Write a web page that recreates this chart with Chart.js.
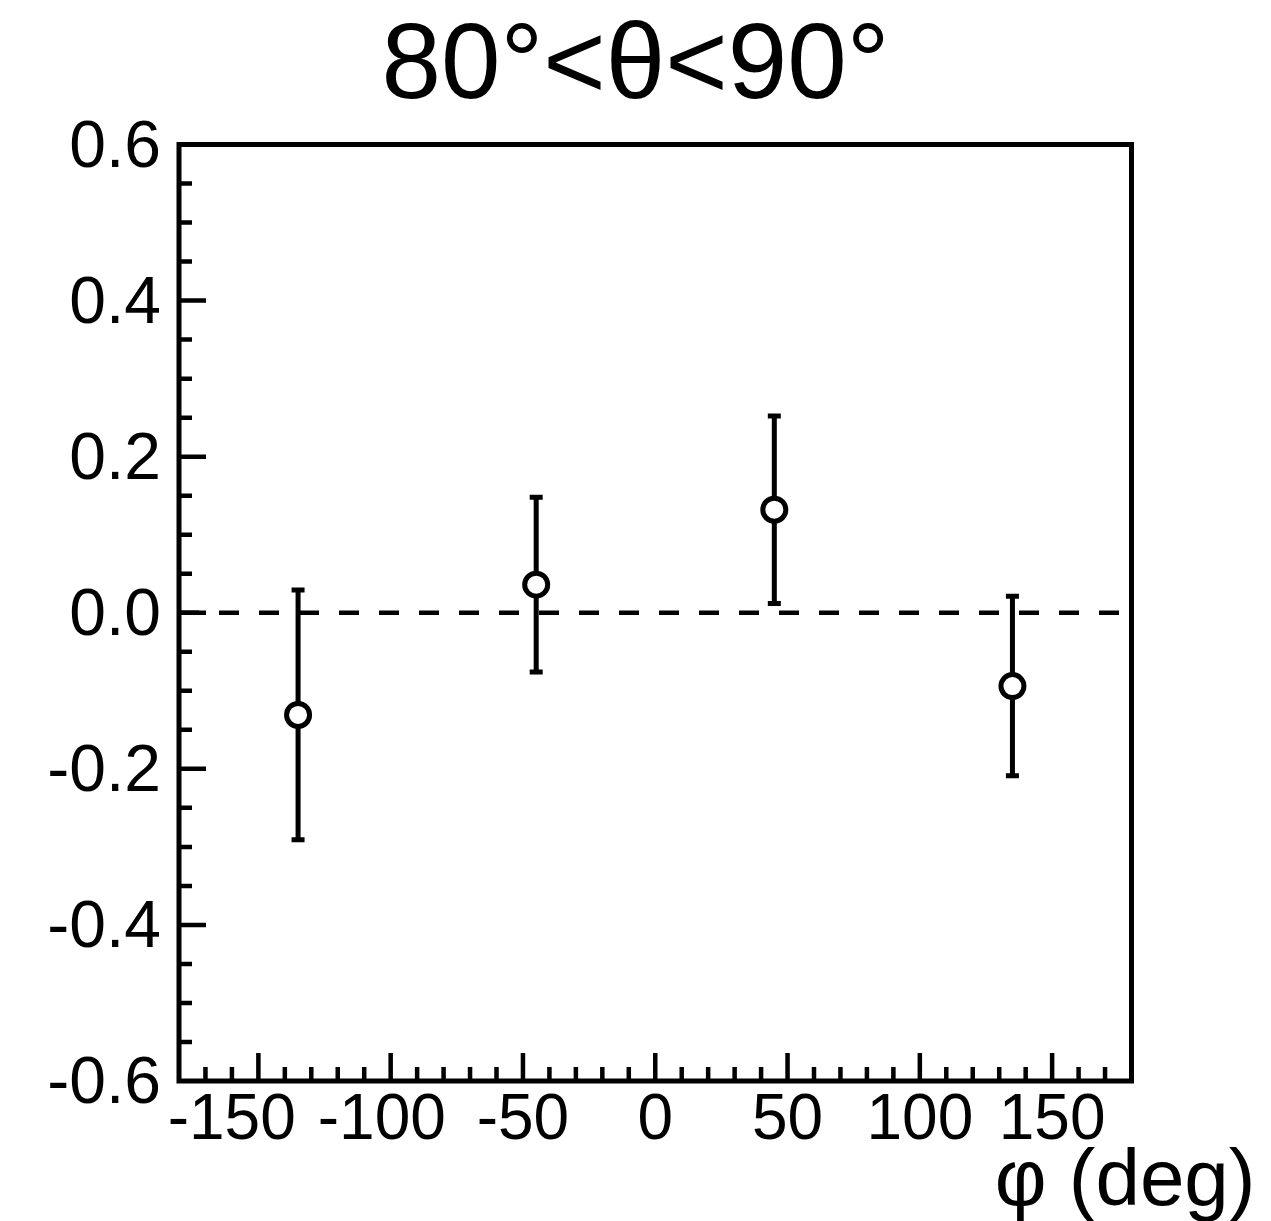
<!DOCTYPE html>
<html><head><meta charset="utf-8">
<script src="https://cdn.jsdelivr.net/npm/chart.js@4/dist/chart.umd.min.js"></script>
<style>html,body{margin:0;padding:0;background:#fff;overflow:hidden}</style>
</head><body>
<canvas id="c" width="1271" height="1221"></canvas>
<script>
// ---- data ----
const phi = [-135, -45, 45, 135];
const asym = [-0.131, 0.036, 0.132, -0.094];
const asymErr = [0.160, 0.112, 0.120, 0.115];
const xTicks = [-150, -100, -50, 0, 50, 100, 150];
const xTickLabels = ['-150   ', '-100 ', '-50', '0', '50', '100', '150'];
const yTicks = [-0.6, -0.4, -0.2, 0.0, 0.2, 0.4, 0.6];
const refX = [-180, 180];
const refY = [0, 0];
const titleText = '80°<θ<90°';
const xTitle = 'φ (deg)';

const FONT = '"Liberation Sans", Arial, Helvetica, sans-serif';

const framePlugin = {
  id: 'rootFrame',
  beforeDatasetDraw(chart, args) {
    if (args.index !== 1) return;
    const ctx = chart.ctx, xs = chart.scales.x, ys = chart.scales.y;
    ctx.save();
    ctx.strokeStyle = '#000';
    ctx.lineWidth = 5;
    ctx.lineCap = 'butt';
    for (let i = 0; i < phi.length; i++) {
      const px = xs.getPixelForValue(phi[i]);
      const yt = ys.getPixelForValue(asym[i] + asymErr[i]);
      const yb = ys.getPixelForValue(asym[i] - asymErr[i]);
      ctx.beginPath();
      ctx.moveTo(px, yt); ctx.lineTo(px, yb);
      ctx.moveTo(px - 6.5, yt); ctx.lineTo(px + 6.5, yt);
      ctx.moveTo(px - 6.5, yb); ctx.lineTo(px + 6.5, yb);
      ctx.stroke();
    }
    ctx.restore();
  },
  afterDraw(chart) {
    const ctx = chart.ctx, xs = chart.scales.x, ys = chart.scales.y;
    const a = chart.chartArea;
    ctx.save();
    ctx.strokeStyle = '#000';
    // ticks
    ctx.lineWidth = 4.5;
    ctx.beginPath();
    for (let v = xs.min + 10; v < xs.max - 1e-9; v += 10) {
      const major = Math.abs(v % 50) < 1e-6;
      const px = xs.getPixelForValue(v);
      ctx.moveTo(px, a.bottom); ctx.lineTo(px, a.bottom - (major ? 28 : 14));
    }
    for (let k = 1; k < Math.round((ys.max - ys.min) / 0.05); k++) {
      const v = ys.min + k * 0.05;
      const major = k % 4 === 0;
      const py = ys.getPixelForValue(v);
      ctx.moveTo(a.left, py); ctx.lineTo(a.left + (major ? 27 : 13), py);
    }
    ctx.stroke();
    // frame
    ctx.lineWidth = 5;
    ctx.strokeRect(a.left, a.top, a.right - a.left, a.bottom - a.top);
    // title
    ctx.fillStyle = '#000';
    ctx.font = '107px ' + FONT;
    ctx.textAlign = 'center';
    ctx.textBaseline = 'alphabetic';
    ctx.fillText(titleText, chart.width / 2, 98);
    // x axis title
    ctx.font = '80px ' + FONT;
    ctx.textAlign = 'right';
    ctx.fillText(xTitle, a.right + 124, 1205);
    ctx.restore();
  }
};

new Chart(document.getElementById('c'), {
  type: 'scatter',
  data: {
    datasets: [
      {
        type: 'line',
        data: refX.map((x, i) => ({ x: x, y: refY[i] })),
        borderColor: '#000',
        borderWidth: 4.5,
        borderDash: [20, 20],
        pointRadius: 0,
        fill: false,
        order: 2
      },
      {
        data: phi.map((x, i) => ({ x: x, y: asym[i] })),
        pointRadius: 11.5,
        pointHoverRadius: 11.5,
        pointBorderWidth: 5,
        borderColor: '#000',
        backgroundColor: '#fff',
        pointStyle: 'circle',
        order: 1
      }
    ]
  },
  options: {
    responsive: false,
    animation: false,
    events: [],
    layout: { padding: { left: 0, right: 139.5, top: 144.5, bottom: 60 } },
    plugins: { legend: { display: false }, tooltip: { enabled: false }, title: { display: false } },
    scales: {
      x: {
        type: 'linear',
        min: -180, max: 180,
        grid: { display: false, drawTicks: false },
        border: { display: false },
        afterBuildTicks: s => { s.ticks = xTicks.map(v => ({ value: v })); },
        afterFit: s => { s.height = 80; },
        ticks: {
          autoSkip: false, maxRotation: 0, minRotation: 0,
          padding: 2,
          color: '#000',
          font: { family: FONT, size: 64 },
          callback: (v, i) => xTickLabels[xTicks.indexOf(v)] ?? String(v)
        }
      },
      y: {
        type: 'linear',
        min: -0.6, max: 0.6,
        grid: { display: false, drawTicks: false },
        border: { display: false },
        afterBuildTicks: s => { s.ticks = yTicks.map(v => ({ value: v })); },
        afterFit: s => { s.width = 179; },
        ticks: {
          autoSkip: false,
          padding: 18,
          labelOffset: 4,
          color: '#000',
          font: { family: FONT, size: 66 },
          callback: v => Number(v).toFixed(1)
        }
      }
    }
  },
  plugins: [framePlugin]
});
</script></body></html>
